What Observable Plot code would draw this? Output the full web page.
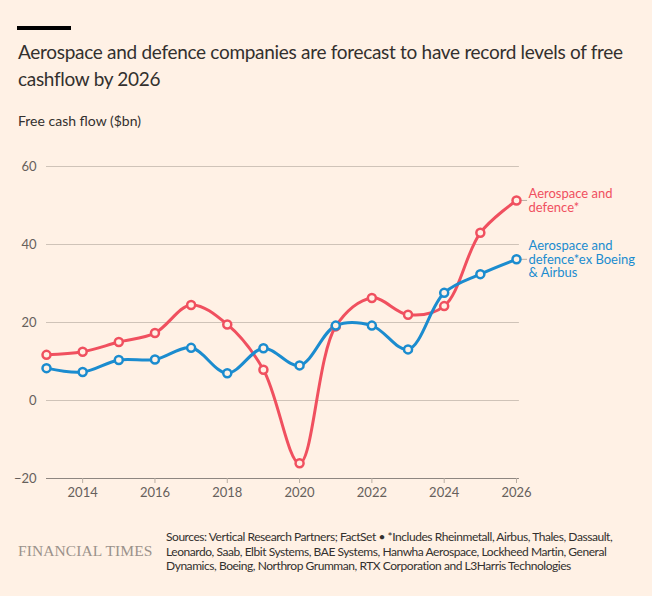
<!DOCTYPE html>
<html>
<head>
<meta charset="utf-8">
<script src="https://cdn.jsdelivr.net/npm/d3@7"></script>
<script src="https://cdn.jsdelivr.net/npm/@observablehq/plot@0.6"></script>
<style>
  html, body { margin: 0; padding: 0; background: #fff1e5; }
  body { width: 652px; height: 596px; position: relative; overflow: hidden; font-family: Lato, "Noto Sans", sans-serif; color: #33302e; }
  .bar { position: absolute; left: 17px; top: 26px; width: 54px; height: 4px; background: #000; }
  .title { position: absolute; left: 18px; top: 38px; width: 640px; font-size: 19px; letter-spacing: -0.3px; line-height: 27px; color: #33302e; }
  .sub { position: absolute; left: 18px; top: 112px; font-size: 14px; color: #33302e; }
  #chart { position: absolute; left: 0; top: 140px; }
  .ft { position: absolute; left: 18px; top: 542px; font-family: "Liberation Serif", serif; font-size: 15.5px; color: #9b928b; letter-spacing: 0.1px; }
  .src { position: absolute; left: 166px; top: 530px; font-size: 12px; letter-spacing: -0.45px; line-height: 14.5px; color: #33302e; width: 482px; }
</style>
</head>
<body>
<div class="bar"></div>
<div class="title">Aerospace and defence companies are forecast to have record levels of free cashflow by 2026</div>
<div class="sub">Free cash flow ($bn)</div>
<div id="chart"></div>
<div class="ft">FINANCIAL TIMES</div>
<div class="src">Sources: Vertical Research Partners; FactSet • *Includes Rheinmetall, Airbus, Thales, Dassault, Leonardo, Saab, Elbit Systems, BAE Systems, Hanwha Aerospace, Lockheed Martin, General Dynamics, Boeing, Northrop Grumman, RTX Corporation and L3Harris Technologies</div>
<script>
const years = [2013, 2014, 2015, 2016, 2017, 2018, 2019, 2020, 2021, 2022, 2023, 2024, 2025, 2026];
const aerospaceDefence = [11.7, 12.5, 15.0, 17.3, 24.5, 19.5, 7.9, -16.1, 19.0, 26.3, 22.0, 24.2, 43.0, 51.3];
const exBoeingAirbus = [8.3, 7.3, 10.4, 10.5, 13.5, 7.0, 13.4, 9.0, 19.2, 19.2, 13.1, 27.6, 32.4, 36.2];
const seriesNames = ["Aerospace and\ndefence*", "Aerospace and\ndefence*ex Boeing\n& Airbus"];
const yTicks = [-20, 0, 20, 40, 60];
const xTicks = [2014, 2016, 2018, 2020, 2022, 2024, 2026];

const red = "#f0505f";
const blue = "#1b8ccf";
const bg = "#fff1e5";

const s1 = years.map((y, i) => ({year: y, value: aerospaceDefence[i]}));
const s2 = years.map((y, i) => ({year: y, value: exBoeingAirbus[i]}));
const last1 = [s1[s1.length - 1]];
const last2 = [s2[s2.length - 1]];

const chart = Plot.plot({
  width: 652,
  height: 370,
  marginLeft: 46,
  marginRight: 136,
  marginTop: 26,
  marginBottom: 32,
  style: {background: "transparent", fontFamily: "Lato, 'Noto Sans', sans-serif", fontSize: "13px", color: "#66605c"},
  x: {domain: [2013, 2026]},
  y: {domain: [-20, 60]},
  marks: [
    Plot.ruleY(yTicks.filter(d => d > -20), {x1: 2013, x2: 2026.08, stroke: "#cfc3b8", strokeWidth: 1}),
    Plot.ruleY([-20], {x1: 2013, x2: 2026.08, stroke: "#8e8680", strokeWidth: 1}),
    Plot.axisY({ticks: yTicks, tickSize: 0, tickPadding: 10, fontSize: 13, fill: "#66605c", label: null}),
    Plot.axisX({ticks: xTicks, tickFormat: d => String(d), tickSize: 5, tickPadding: 4, stroke: "#b8ada3", fontSize: 13, fill: "#66605c", label: null}),
    Plot.ruleY(last1, {y: "value", x1: 2026 + 5/36, x2: 2026 + 11/36, stroke: "#b8ada3"}),
    Plot.ruleY(last2, {y: "value", x1: 2026 + 5/36, x2: 2026 + 11/36, stroke: "#b8ada3"}),
    Plot.line(s1, {x: "year", y: "value", stroke: red, strokeWidth: 3, curve: "catmull-rom"}),
    Plot.line(s2, {x: "year", y: "value", stroke: blue, strokeWidth: 3, curve: "catmull-rom"}),
    Plot.dot(s1, {x: "year", y: "value", r: 4, fill: bg, stroke: red, strokeWidth: 2.5}),
    Plot.dot(s2, {x: "year", y: "value", r: 4, fill: bg, stroke: blue, strokeWidth: 2.5}),
    Plot.text(last1, {x: "year", y: "value", text: () => seriesNames[0], textAnchor: "start", lineAnchor: "top", dx: 12, dy: -12, fill: red, fontSize: 13, lineHeight: 1.05}),
    Plot.text(last2, {x: "year", y: "value", text: () => seriesNames[1], textAnchor: "start", lineAnchor: "top", dx: 12, dy: -19, fill: blue, fontSize: 13, lineHeight: 1.05})
  ]
});
document.getElementById("chart").appendChild(chart);
</script>
</body>
</html>
